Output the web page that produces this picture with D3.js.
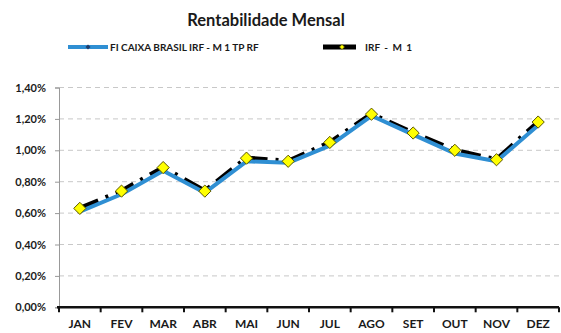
<!DOCTYPE html>
<html>
<head>
<meta charset="utf-8">
<script src="https://cdn.jsdelivr.net/npm/d3@7"></script>
<style>
  html, body { margin: 0; padding: 0; background: #fff; }
  svg { display: block; font-family: "Lato", "Open Sans", sans-serif; }
</style>
</head>
<body>
<svg id="chart" width="561" height="333"></svg>
<script>
// Monthly returns (%)
const months = ["JAN", "FEV", "MAR", "ABR", "MAI", "JUN", "JUL", "AGO", "SET", "OUT", "NOV", "DEZ"];
const fundValues = [0.61, 0.72, 0.87, 0.73, 0.93, 0.92, 1.03, 1.22, 1.10, 0.98, 0.93, 1.16];
const indexValues = [0.63, 0.74, 0.89, 0.74, 0.95, 0.93, 1.05, 1.23, 1.11, 1.00, 0.94, 1.18];
const yTicks = [0, 0.2, 0.4, 0.6, 0.8, 1.0, 1.2, 1.4];
const fundName = "FI CAIXA BRASIL IRF - M 1 TP RF";
const indexName = "IRF - M 1";

const svg = d3.select("#chart");
const plotLeft = 59, plotRight = 559, plotTop = 87.5, plotBottom = 307.3;

const x = d3.scaleBand().domain(months).range([plotLeft, plotRight]);
const y = d3.scaleLinear().domain([0, 1.4]).range([plotBottom, plotTop]);
const fmt = v => d3.format(".2f")(v).replace(".", ",") + "%";

// Title
svg.append("text")
  .attr("x", 266).attr("y", 26)
  .attr("text-anchor", "middle")
  .attr("font-size", 16.5).attr("font-weight", "bold").attr("fill", "#1a1a1a")
  .text("Rentabilidade Mensal");

// Gridlines
svg.append("g").selectAll("line")
  .data(yTicks.filter(d => d > 0))
  .join("line")
  .attr("x1", plotLeft).attr("x2", plotRight)
  .attr("y1", d => y(d)).attr("y2", d => y(d))
  .attr("stroke", "#c8c8c8").attr("stroke-width", 1)
  .attr("stroke-dasharray", "5,4");

// Y axis
const yAxis = svg.append("g")
  .attr("transform", `translate(${plotLeft},0)`)
  .call(d3.axisLeft(y).tickValues(yTicks).tickFormat(fmt).tickSize(4).tickPadding(9));
yAxis.select(".domain").attr("stroke", "#999");
yAxis.selectAll(".tick line").attr("stroke", "#999");
yAxis.selectAll(".tick text")
  .attr("font-size", 11).attr("font-weight", "bold").attr("fill", "#1a1a1a")
  .attr("font-family", "Lato, sans-serif");

// X axis: ticks on the category boundaries
const xAxis = svg.append("g")
  .attr("transform", `translate(0,${plotBottom})`);
xAxis.append("line")
  .attr("x1", plotLeft - 2).attr("x2", plotRight)
  .attr("stroke", "#111").attr("stroke-width", 2.5);
xAxis.selectAll("line.tk")
  .data(d3.range(months.length + 1))
  .join("line").attr("class", "tk")
  .attr("x1", i => plotLeft + i * x.step()).attr("x2", i => plotLeft + i * x.step())
  .attr("y1", 0).attr("y2", 5)
  .attr("stroke", "#111").attr("stroke-width", 2);
xAxis.selectAll("text")
  .data(months)
  .join("text")
  .attr("x", d => x(d) + x.bandwidth() / 2)
  .attr("y", 21)
  .attr("text-anchor", "middle")
  .attr("font-size", 12).attr("font-weight", "bold").attr("fill", "#1a1a1a")
  .text(d => d);

const cx = (d, i) => x(months[i]) + x.bandwidth() / 2;
const line = vals => d3.line().x((d, i) => cx(d, i)).y(d => y(d))(vals);

// Index line (black, dashed, behind)
svg.append("path")
  .attr("d", line(indexValues))
  .attr("fill", "none").attr("stroke", "#000").attr("stroke-width", 5)
  .attr("stroke-dasharray", "20,8,3,8");

// Fund line (blue)
svg.append("path")
  .attr("d", line(fundValues))
  .attr("fill", "none").attr("stroke", "#2f8fd3").attr("stroke-width", 4)
  .attr("stroke-linejoin", "round");

const diamond = d3.symbol().type(d3.symbolDiamond2);

svg.append("g").selectAll("path")
  .data(fundValues)
  .join("path")
  .attr("d", diamond.size(16)())
  .attr("transform", (d, i) => `translate(${cx(d, i)},${y(d)})`)
  .attr("fill", "#1f3d6b");

svg.append("g").selectAll("path")
  .data(indexValues)
  .join("path")
  .attr("d", diamond.size(95)())
  .attr("transform", (d, i) => `translate(${cx(d, i)},${y(d)})`)
  .attr("fill", "#ffff00").attr("stroke", "#5a5500").attr("stroke-width", 1);

// Legend
const lg = svg.append("g").attr("font-size", 10).attr("font-weight", "bold").attr("fill", "#1a1a1a");
lg.append("line").attr("x1", 68).attr("x2", 108).attr("y1", 47).attr("y2", 47)
  .attr("stroke", "#2f8fd3").attr("stroke-width", 4);
lg.append("path").attr("d", diamond.size(16)()).attr("transform", "translate(88,47)")
  .attr("fill", "#1f3d6b");
lg.append("text").attr("x", 110).attr("y", 50.5).text(fundName);

lg.append("line").attr("x1", 323).attr("x2", 356).attr("y1", 47).attr("y2", 47)
  .attr("stroke", "#000").attr("stroke-width", 5);
lg.append("path").attr("d", diamond.size(16)()).attr("transform", "translate(342,47)")
  .attr("fill", "#ffff00").attr("stroke", "#5a5500").attr("stroke-width", 0.6);
lg.append("text").attr("x", 365).attr("y", 50.5).attr("word-spacing", 2).text(indexName);
</script>
</body>
</html>
